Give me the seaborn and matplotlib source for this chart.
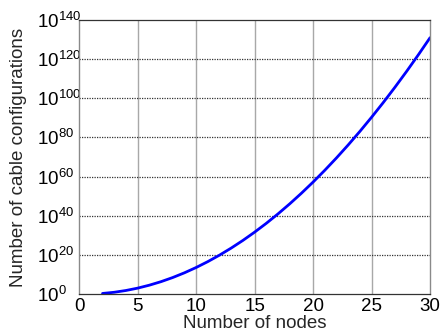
import numpy as np
import matplotlib
matplotlib.use("Agg")
import matplotlib.pyplot as plt
import seaborn as sns

# number of nodes and log10 of the number of cable configurations
nodes = [2, 3, 4, 5, 6, 7, 8, 9, 10, 11, 12, 13, 14, 15, 16,
         17, 18, 19, 20, 21, 22, 23, 24, 25, 26, 27, 28, 29, 30]
log_configs = [0.30, 0.90, 1.81, 3.01, 4.52, 6.32, 8.43, 10.84, 13.55, 16.56,
               19.87, 23.48, 27.39, 31.61, 36.12, 40.94, 46.06, 51.48, 57.20,
               63.22, 69.54, 76.16, 83.08, 90.31, 97.83, 105.66, 113.79,
               122.22, 130.95]
x_ticks = [0, 5, 10, 15, 20, 25, 30]
y_exps = [0, 20, 40, 60, 80, 100, 120, 140]

sns.set_style("white")
plt.rcParams['font.family'] = ['Liberation Sans', 'DejaVu Sans']
plt.rcParams['mathtext.fontset'] = 'custom'
plt.rcParams['mathtext.rm'] = 'Liberation Sans'
plt.rcParams['mathtext.it'] = 'Liberation Sans'
plt.rcParams['mathtext.default'] = 'regular'

fig = plt.figure(figsize=(4.42, 3.33), dpi=100)
ax = fig.add_axes([0.179, 0.117, 0.794, 0.823])

configs = [10.0 ** e for e in log_configs]
sns.lineplot(x=nodes, y=configs, color='#0000ff', linewidth=2, ax=ax)

ax.set_yscale('log')
ax.set_xlim(0, 30)
ax.set_ylim(1, 1e140)
ax.set_xticks(x_ticks)
ax.set_xticklabels([str(t) for t in x_ticks])
ax.set_yticks([10.0 ** e for e in y_exps])
ax.set_yticklabels([r'$10^{%d}$' % e for e in y_exps])
ax.minorticks_off()
ax.tick_params(axis='both', length=0, labelsize=13.5, colors='black')
ax.tick_params(axis='x', pad=3)
ax.tick_params(axis='y', pad=30)
for lab in ax.get_yticklabels():
    lab.set_horizontalalignment('left')

# grid: solid grey verticals, dotted dark horizontals
for t in x_ticks[1:-1]:
    ax.axvline(t, color='#a8a8a8', linewidth=1, zorder=0)
for e in y_exps[1:-1]:
    ax.axhline(10.0 ** e, color='#333333', linewidth=0.9, linestyle=(0, (1, 1)), zorder=0)

for side in ['left', 'right']:
    ax.spines[side].set_color('#8a8a8a')
    ax.spines[side].set_linewidth(1)
for side in ['top', 'bottom']:
    ax.spines[side].set_color('#333333')
    ax.spines[side].set_linewidth(0.9)
    ax.spines[side].set_linestyle((0, (1, 1)))

ax.set_xlabel('Number of nodes', fontsize=13.5)
ax.set_ylabel('Number of cable configurations', fontsize=13.5)
ax.xaxis.set_label_coords(0.5, -0.075)
ax.yaxis.set_label_coords(-0.148, 0.5)

fig.savefig('out.png', dpi=100)
